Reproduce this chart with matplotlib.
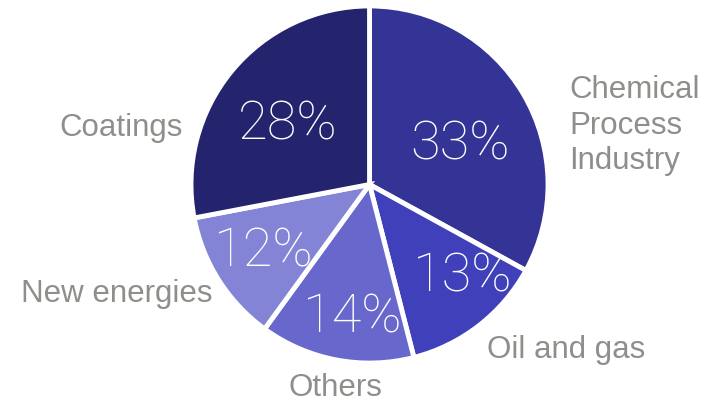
import matplotlib
matplotlib.use("Agg")
import matplotlib.pyplot as plt

sectors = ["Chemical\nProcess\nIndustry", "Oil and gas", "Others", "New energies", "Coatings"]
shares = [33, 13, 14, 12, 28]
colors = ["#343496", "#4040BB", "#6868CC", "#8484D6", "#24246E"]

# label anchors in pie-radius units
label_xy = [(1.118, 0.335), (0.658, -0.966), (-0.193, -1.179), (-0.882, -0.653), (-1.045, 0.277)]
label_ha = ["left", "left", "center", "right", "right"]
label_va = ["center", "baseline", "baseline", "baseline", "baseline"]
pct_xy = [(0.507, 0.227), (0.518, -0.513), (-0.098, -0.742), (-0.597, -0.373), (-0.457, 0.342)]

fig = plt.figure(figsize=(7.06, 4.06), dpi=100)
ax = fig.add_axes([0, 0, 1, 1])
wedges, _, autotexts = ax.pie(
    shares, colors=colors, startangle=90, counterclock=False, radius=1,
    autopct="%d%%", wedgeprops=dict(edgecolor="white", linewidth=3.5),
    textprops=dict(color="white", fontsize=39, family="Roboto", weight="light"),
)
for t, xy in zip(autotexts, pct_xy):
    t.set_position(xy)
    t.set_va("center")

for name, xy, ha, va in zip(sectors, label_xy, label_ha, label_va):
    ax.text(xy[0], xy[1], name, ha=ha, va=va, fontsize=22.5, color="#8E8E8A",
            family="Liberation Sans", linespacing=1.25)

ax.set_xlim(-2.070, 1.885)
ax.set_ylim(-1.235, 1.039)
ax.set_aspect("auto")
ax.axis("off")
fig.savefig("out.png", dpi=100)
